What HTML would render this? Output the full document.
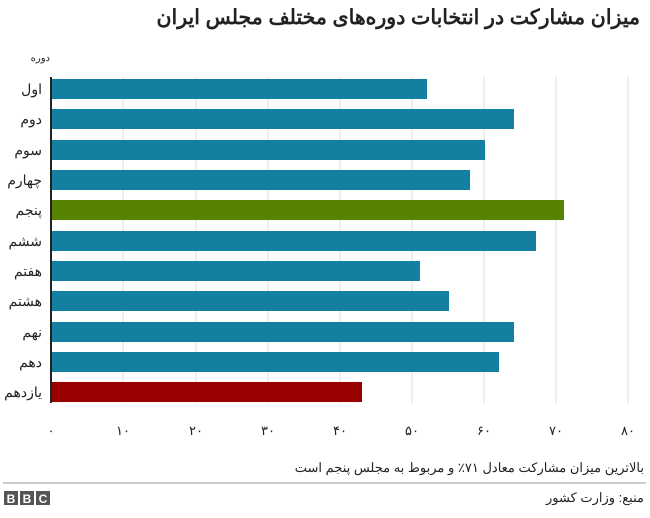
<!DOCTYPE html>
<html><head><meta charset="utf-8"><style>
body{margin:0;background:#fff;width:650px;height:513px;overflow:hidden;font-family:"Liberation Sans","Noto Sans CJK SC",sans-serif}
</style></head><body>
<svg width="650" height="513" xmlns="http://www.w3.org/2000/svg" font-family="Liberation Sans, Noto Sans CJK SC, sans-serif">
<text x="640" y="24" text-anchor="end" font-size="20.5" font-weight="bold" fill="#222">میزان مشارکت در انتخابات دوره‌های مختلف مجلس ایران</text>
<text x="50" y="61" text-anchor="end" font-size="10" fill="#222">دوره</text>
<g stroke="#ddd" stroke-width="1">
<line x1="123" y1="77" x2="123" y2="403"/><line x1="196" y1="77" x2="196" y2="403"/><line x1="268" y1="77" x2="268" y2="403"/><line x1="340" y1="77" x2="340" y2="403"/><line x1="412" y1="77" x2="412" y2="403"/><line x1="484" y1="77" x2="484" y2="403"/><line x1="556" y1="77" x2="556" y2="403"/><line x1="628" y1="77" x2="628" y2="403"/>
</g>
<g fill="#1380a1">
<rect x="51" y="79" width="376" height="20"/>
<rect x="51" y="109" width="463" height="20"/>
<rect x="51" y="140" width="434" height="20"/>
<rect x="51" y="170" width="419" height="20"/>
<rect x="51" y="200" width="513" height="20" fill="#588300"/>
<rect x="51" y="231" width="485" height="20"/>
<rect x="51" y="261" width="369" height="20"/>
<rect x="51" y="291" width="398" height="20"/>
<rect x="51" y="322" width="463" height="20"/>
<rect x="51" y="352" width="448" height="20"/>
<rect x="51" y="382" width="311" height="20" fill="#990000"/>
</g>
<line x1="51" y1="77" x2="51" y2="403" stroke="#222" stroke-width="2"/>
<g font-size="14" fill="#222" text-anchor="end">
<text x="42" y="94">اول</text><text x="42" y="124">دوم</text><text x="42" y="155">سوم</text><text x="42" y="185">چهارم</text><text x="42" y="215">پنجم</text><text x="42" y="246">ششم</text><text x="42" y="276">هفتم</text><text x="42" y="306">هشتم</text><text x="42" y="337">نهم</text><text x="42" y="367">دهم</text><text x="42" y="397">یازدهم</text>
</g>
<g font-size="13" fill="#222" text-anchor="middle">
<text x="51" y="435">۰</text><text x="123" y="435">۱۰</text><text x="196" y="435">۲۰</text><text x="268" y="435">۳۰</text><text x="340" y="435">۴۰</text><text x="412" y="435">۵۰</text><text x="484" y="435">۶۰</text><text x="556" y="435">۷۰</text><text x="628" y="435">۸۰</text>
</g>
<text x="644" y="472" text-anchor="end" font-size="13" fill="#222">بالاترین میزان مشارکت معادل ۷۱٪ و مربوط به مجلس پنجم است</text>
<line x1="3" y1="483" x2="646" y2="483" stroke="#999" stroke-width="1"/>
<text x="644" y="502" text-anchor="end" font-size="13" fill="#222">منبع: وزارت کشور</text>
<g>
<rect x="4" y="491" width="14" height="14" fill="#555"/><rect x="20" y="491" width="14" height="14" fill="#555"/><rect x="36" y="491" width="14" height="14" fill="#555"/>
<g fill="#fff" font-size="12" font-weight="bold" text-anchor="middle"><text x="11" y="503">B</text><text x="27" y="503">B</text><text x="43" y="503">C</text></g>
</g>
</svg>
</body></html>
